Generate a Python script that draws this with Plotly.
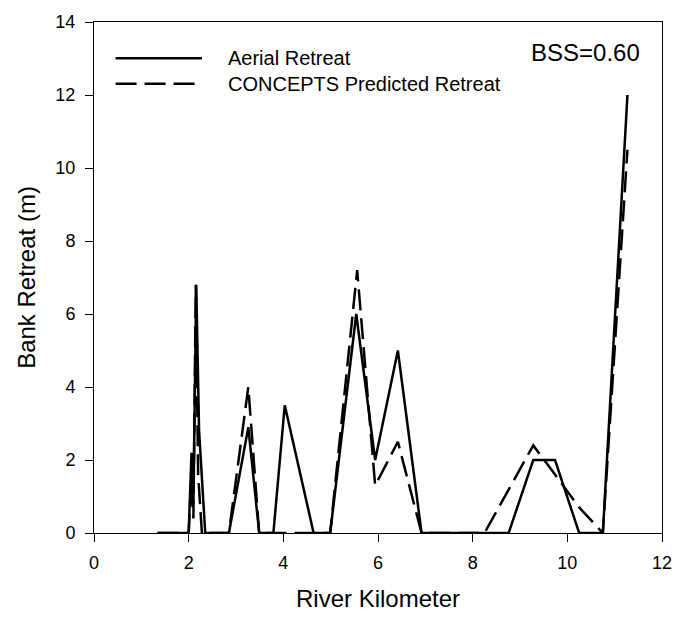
import plotly.graph_objects as go

# Aerial (observed) retreat
aerial_km = [1.34, 2.00, 2.06, 2.10, 2.16, 2.22, 2.35, 2.85, 3.26, 3.49, 3.79, 4.03, 4.64,
             4.99, 5.54, 5.94, 6.42, 6.92, 8.76, 9.28, 9.74, 10.25, 10.75, 11.27]
aerial_m = [0.0, 0.0, 2.2, 0.8, 6.8, 2.8, 0.0, 0.0, 2.9, 0.0, 0.0, 3.5, 0.0,
            0.0, 6.0, 2.0, 5.0, 0.0, 0.0, 2.0, 2.0, 0.0, 0.0, 12.0]

# CONCEPTS predicted retreat
concepts_km = [1.34, 2.00, 2.05, 2.10, 2.15, 2.20, 2.28, 2.85, 3.26, 3.49, 3.79, 4.03, 4.64,
               4.99, 5.56, 5.94, 6.42, 6.92, 8.25, 9.28, 9.74, 10.25, 10.75, 11.27]
concepts_m = [0.0, 0.0, 1.4, 0.4, 6.8, 1.6, 0.0, 0.0, 4.0, 0.0, 0.0, 0.0, 0.0,
              0.0, 7.2, 1.3, 2.5, 0.0, 0.0, 2.4, 1.6, 0.7, 0.0, 10.5]

x_ticks = [0, 2, 4, 6, 8, 10, 12]
y_ticks = [0, 2, 4, 6, 8, 10, 12, 14]

FONT = "Liberation Sans, Arial, sans-serif"

fig = go.Figure()
fig.add_trace(go.Scatter(x=aerial_km, y=aerial_m, mode="lines", name="Aerial Retreat",
                         line=dict(color="black", width=2.5), showlegend=False))
fig.add_trace(go.Scatter(x=concepts_km, y=concepts_m, mode="lines", name="CONCEPTS Predicted Retreat",
                         line=dict(color="black", width=2.5, dash="21px,8px"), showlegend=False))

# manual legend
legend_items = [("Aerial Retreat", "solid", 0.929), ("CONCEPTS Predicted Retreat", "21px,8px", 0.879)]
for label, dash, yy in legend_items:
    fig.add_shape(type="line", xref="paper", yref="paper", x0=0.038, x1=0.19, y0=yy, y1=yy,
                  line=dict(color="black", width=2.5, dash=dash))
    fig.add_annotation(xref="paper", yref="paper", x=0.232, y=yy, text=label, showarrow=False,
                       xanchor="left", yanchor="middle", font=dict(family=FONT, size=20, color="black"))

fig.add_annotation(xref="paper", yref="paper", x=0.965, y=0.941, text="BSS=0.60", showarrow=False,
                   xanchor="right", yanchor="middle", font=dict(family=FONT, size=24, color="black"))

axis_common = dict(showgrid=False, zeroline=False, showline=True, linecolor="black", linewidth=1,
                   mirror=True, ticks="outside", ticklen=8, tickcolor="black", tickwidth=1,
                   tickfont=dict(family=FONT, size=18, color="black"))

fig.update_xaxes(range=[0, 12], tickvals=x_ticks, ticklabelstandoff=5,
                 title=dict(text="River Kilometer", font=dict(family=FONT, size=24, color="black"), standoff=18),
                 **axis_common)
fig.update_yaxes(range=[0, 14], tickvals=y_ticks, ticklabelstandoff=6,
                 title=dict(text="Bank Retreat (m)", font=dict(family=FONT, size=24, color="black"), standoff=12),
                 **axis_common)

fig.update_layout(width=684, height=619, margin=dict(l=94, r=14, t=16, b=83),
                  plot_bgcolor="white", paper_bgcolor="white", font=dict(family=FONT))

fig.write_html("out.html")
